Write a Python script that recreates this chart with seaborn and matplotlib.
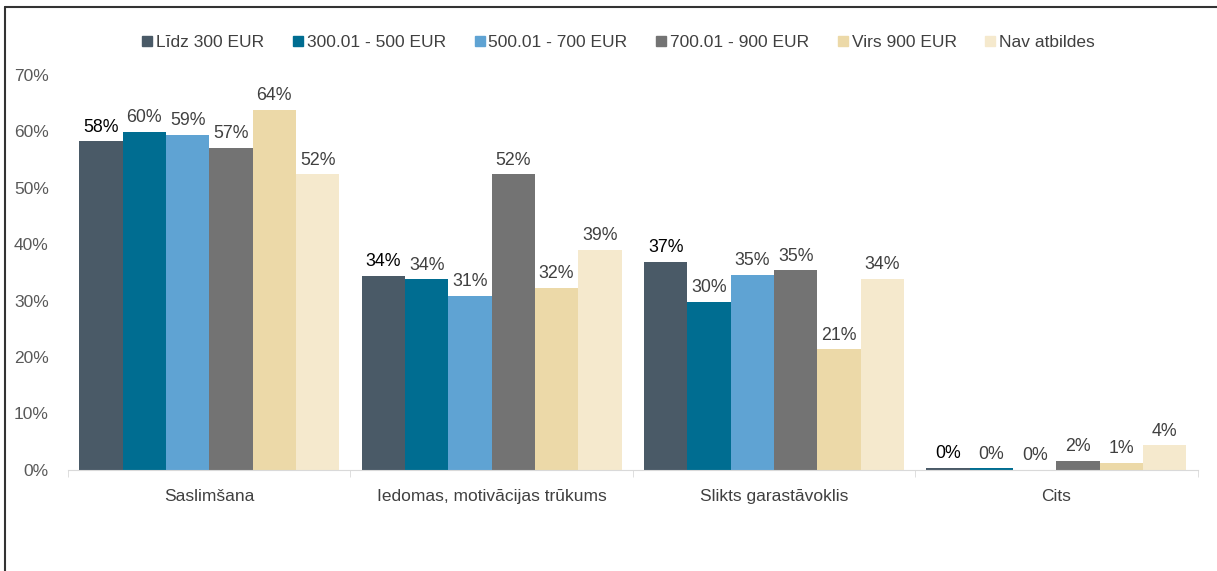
import matplotlib.pyplot as plt
import seaborn as sns
import pandas as pd
from matplotlib.lines import Line2D

categories = ["Saslimšana", "Iedomas, motivācijas trūkums", "Slikts garastāvoklis", "Cits"]
groups = ["Līdz 300 EUR", "300.01 - 500 EUR", "500.01 - 700 EUR",
          "700.01 - 900 EUR", "Virs 900 EUR", "Nav atbildes"]
lidz_300 = [58.2, 34.4, 36.9, 0.4]
eur_300_500 = [59.9, 33.8, 29.8, 0.3]
eur_500_700 = [59.4, 30.9, 34.6, 0.0]
eur_700_900 = [57.1, 52.4, 35.4, 1.6]
virs_900 = [63.8, 32.3, 21.4, 1.3]
nav_atbildes = [52.4, 39.0, 33.9, 4.4]
colors = ["#4a5a67", "#006d91", "#5fa3d3", "#737373", "#ecd9a8", "#f5e9cd"]

series = [lidz_300, eur_300_500, eur_500_700, eur_700_900, virs_900, nav_atbildes]
rows = []
for g, vals in zip(groups, series):
  for c, v in zip(categories, vals):
    rows.append({"category": c, "group": g, "value": v})
df = pd.DataFrame(rows)

sns.set_style("white")
plt.rcParams['font.family'] = ['Liberation Sans', 'DejaVu Sans']

fig = plt.figure(figsize=(12.17, 5.71), dpi=100)
ax = fig.add_axes([0.056, 0.177, 0.928, 0.692])
sns.barplot(data=df, x="category", y="value", hue="group", order=categories,
            hue_order=groups, palette=colors, width=0.92, gap=0, saturation=1,
            edgecolor="none", ax=ax, legend=False)

for i, cont in enumerate(ax.containers):
  lab_color = "#000000" if i == 0 else "#404040"
  ax.bar_label(cont, labels=["%d%%" % round(v) for v in series[i]], padding=4,
               fontsize=12.8, color=lab_color)

ax.set_ylim(0, 70)
ax.set_xlim(-0.5, 3.5)
ax.set_yticks(range(0, 71, 10))
ax.set_yticklabels(["%d%%" % t for t in range(0, 71, 10)], fontsize=12.5, color="#595959")
ax.set_xticks(range(4))
ax.set_xticklabels(categories, fontsize=12.5, color="#404040")
ax.set_xticks([-0.5, 0.5, 1.5, 2.5, 3.5], minor=True)
ax.tick_params(axis="x", which="major", length=0, pad=14)
ax.tick_params(axis="x", which="minor", length=5, color="#d9d9d9", direction="out")
ax.tick_params(axis="y", length=0, pad=14)
ax.set_xlabel("")
ax.set_ylabel("")
for s in ["top", "right", "left"]:
  ax.spines[s].set_visible(False)
ax.spines["bottom"].set_color("#d9d9d9")
ax.xaxis.set_tick_params(bottom=True, which="minor")

handles = [Line2D([0], [0], marker="s", linestyle="none", markersize=6.5,
                  markerfacecolor=c, markeredgecolor=c) for c in colors]
fig.legend(handles, groups, loc="center", bbox_to_anchor=(0.506, 0.926), ncol=6,
           frameon=False, fontsize=12.5, handletextpad=-0.1, columnspacing=1.35,
           handlelength=1.2, labelcolor="#404040")

# outer frame: only top and left edges are visible in the original
fig.add_artist(Line2D([0.0037, 1.0], [0.9886, 0.9886], transform=fig.transFigure,
                      color="#333333", linewidth=1.5))
fig.add_artist(Line2D([0.0037, 0.0037], [0.0, 0.9886], transform=fig.transFigure,
                      color="#333333", linewidth=1.5))

plt.savefig("out.png", dpi=100)
plt.close()
